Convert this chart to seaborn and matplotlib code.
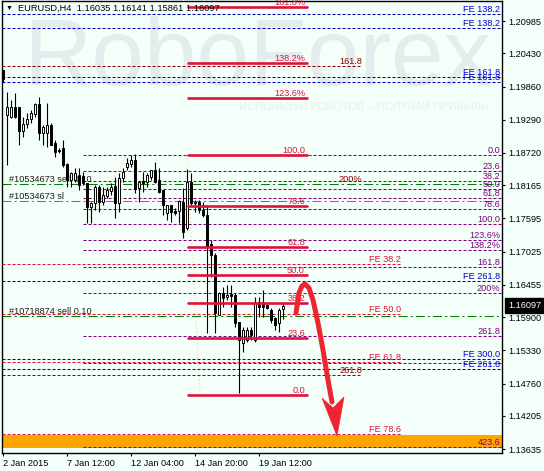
import numpy as np
import pandas as pd
import matplotlib
matplotlib.use("Agg")
import matplotlib.pyplot as plt
import matplotlib.transforms as mtransforms
from matplotlib.patches import Polygon
import seaborn as sns

# EURUSD H4 candles, bar 0 = 2 Jan 2015 00:00
opens = [1.2014, 1.1937, 1.1934, 1.1951, 1.1951, 1.1910, 1.1922, 1.1930, 1.1939, 1.1956,
         1.1906, 1.1906, 1.1920, 1.1889, 1.1877, 1.1881, 1.1853, 1.1826, 1.1826, 1.1834,
         1.1832, 1.1820, 1.1779, 1.1786, 1.1814, 1.1788, 1.1798, 1.1807, 1.1815, 1.1786,
         1.1829, 1.1848, 1.1853, 1.1860, 1.1812, 1.1824, 1.1822, 1.1831, 1.1843, 1.1826,
         1.1808, 1.1769, 1.1783, 1.1772, 1.1772, 1.1788, 1.1743, 1.1822, 1.1788, 1.1788,
         1.1774, 1.1765, 1.1716, 1.1697, 1.1594, 1.1632, 1.1625, 1.1630, 1.1628, 1.1582,
         1.1546, 1.1551, 1.1568, 1.1551, 1.1616, 1.1614, 1.1611, 1.1602, 1.1589, 1.1580,
         1.16035]
highs = [1.2014, 1.1977, 1.1963, 1.1975, 1.1951, 1.1934, 1.1941, 1.1946, 1.1958, 1.1968,
         1.1920, 1.1958, 1.1923, 1.1894, 1.1881, 1.1894, 1.1855, 1.1839, 1.1846, 1.1846,
         1.1839, 1.1820, 1.1788, 1.1817, 1.1817, 1.1814, 1.1814, 1.1820, 1.1831, 1.1838,
         1.1846, 1.1863, 1.1868, 1.1870, 1.1824, 1.1839, 1.1838, 1.1843, 1.1856, 1.1846,
         1.1808, 1.1783, 1.1783, 1.1777, 1.1791, 1.1812, 1.1844, 1.1838, 1.1791, 1.1791,
         1.1788, 1.1783, 1.1723, 1.1700, 1.1633, 1.1642, 1.1645, 1.1645, 1.1632, 1.1582,
         1.1573, 1.1573, 1.1573, 1.1625, 1.1625, 1.1637, 1.1613, 1.1606, 1.1590, 1.1606,
         1.16141]
lows = [1.1994, 1.1851, 1.1932, 1.1932, 1.1886, 1.1899, 1.1915, 1.1923, 1.1934, 1.1894,
        1.1886, 1.1882, 1.1886, 1.1865, 1.1872, 1.1848, 1.1814, 1.1814, 1.1822, 1.1808,
        1.1817, 1.1752, 1.1752, 1.1774, 1.1771, 1.1783, 1.1795, 1.1800, 1.1760, 1.1771,
        1.1822, 1.1843, 1.1848, 1.1803, 1.1788, 1.1805, 1.1814, 1.1826, 1.1820, 1.1803,
        1.1765, 1.1757, 1.1753, 1.1765, 1.1752, 1.1726, 1.1740, 1.1783, 1.1771, 1.1769,
        1.1762, 1.1563, 1.1659, 1.1563, 1.1594, 1.1608, 1.1620, 1.1608, 1.1573, 1.1460,
        1.1530, 1.1547, 1.1551, 1.1547, 1.1590, 1.1590, 1.1604, 1.1580, 1.1568, 1.1565,
        1.15861]
closes = [1.1999, 1.1951, 1.1951, 1.1934, 1.1910, 1.1922, 1.1930, 1.1941, 1.1956, 1.1906,
          1.1917, 1.1920, 1.1886, 1.1874, 1.1875, 1.1851, 1.1826, 1.1838, 1.1838, 1.1817,
          1.1820, 1.1779, 1.1786, 1.1814, 1.1788, 1.1800, 1.1808, 1.1814, 1.1786, 1.1829,
          1.1839, 1.1855, 1.1860, 1.1810, 1.1822, 1.1820, 1.1834, 1.1843, 1.1822, 1.1805,
          1.1783, 1.1783, 1.1771, 1.1769, 1.1789, 1.1736, 1.1822, 1.1786, 1.1786, 1.1774,
          1.1765, 1.1710, 1.1697, 1.1597, 1.1632, 1.1623, 1.1628, 1.1626, 1.1580, 1.1551,
          1.1568, 1.1568, 1.1559, 1.1614, 1.1608, 1.1608, 1.1606, 1.1585, 1.1577, 1.1602,
          1.16097]

date_ticks = [0, 16, 32, 48, 64]
date_labels = ["2 Jan 2015", "7 Jan 12:00", "12 Jan 04:00", "14 Jan 20:00", "19 Jan 12:00"]
price_ticks = [1.20985, 1.20430, 1.19860, 1.19290, 1.18720, 1.18165, 1.17595,
               1.17025, 1.16455, 1.15900, 1.15330, 1.14760, 1.14205, 1.13635]

# fibo retracement (thick red)
red_fib_levels = [1.14564, 1.15537, 1.16138, 1.16625, 1.17111, 1.17803, 1.18685,
                  1.19658, 1.20259, 1.21232]
red_fib_labels = ["0.0", "23.6", "38.2", "50.0", "61.8", "78.6", "100.0",
                  "123.6%", "138.2%", "161.8%"]
# fibo expansion (purple)
purple_fib_levels = [1.18685, 1.18405, 1.18232, 1.18093, 1.17953, 1.17754, 1.17500,
                     1.17220, 1.17047, 1.16768, 1.16315, 1.15583, 1.13665]
purple_fib_labels = ["0.0", "23.6", "38.2", "50.0", "61.8", "78.6", "100.0",
                     "123.6%", "138.2%", "161.8", "200%", "261.8", "423.6"]
purple_extra_level = 1.15113
# FE levels
fe_blue_levels = [1.2110, 1.2086, 1.2002, 1.1994, 1.1652, 1.1518, 1.1501]
fe_blue_labels = ["FE 138.2", "FE 138.2", "FE 161.8", "FE 161.8", "FE 261.8",
                  "FE 300.0", "FE 261.8"]
fe_red_levels = [1.1681, 1.1595, 1.1513, 1.1389]
fe_red_labels = ["FE 38.2", "FE 50.0", "FE 61.8", "FE 78.6"]
maroon_levels = [1.2021, 1.1491]
maroon_labels = ["161.8", "261.8"]
maroon_note = ("200%", 1.1819)
# open orders
order_levels = [1.1818, 1.1790, 1.1592]
order_labels = ["#10534673 sell 0.10", "#10534673 sl", "#10718874 sell 0.10"]
# target zone
zone_low, zone_high = 1.1366, 1.1388
# fibo trend lines (bar, price)
red_trend = ([46.0, 49.25], [1.18685, 1.14598])
purple_trend = ([20.6, 31.0], [1.17500, 1.18685])
# forecast arrow (bar, price)
arrow_bars = [73.25, 74.0, 74.75, 75.5, 76.5, 77.5, 78.75, 80.0, 81.25, 82.25]
arrow_prices = [1.15972, 1.16315, 1.16435, 1.16470, 1.16401, 1.16195, 1.15800,
                1.15337, 1.14821, 1.14444]
head_bars = [79.75, 82.5, 85.25, 83.5]
head_prices = [1.14512, 1.14341, 1.14530, 1.13860]

sns.set_theme(style="white", rc={"axes.edgecolor": "black", "text.color": "black",
                                 "xtick.color": "black", "ytick.color": "black"})
plt.rcParams["font.family"] = ["Liberation Sans", "DejaVu Sans"]
plt.rcParams["lines.scale_dashes"] = False

BG = "#F5FFFA"
FS = 6.6
DASH = (0, (2.2, 1.4))
DASHDOT = (0, (6.5, 2.2, 1.5, 2.2))
PURPLE = "#800080"
CRIMSON = "#DC143C"
BLUE = "#0000CD"
MAROON = "#8B0000"

fig = plt.figure(figsize=(5.44, 4.71), dpi=100, facecolor=BG)
ax = fig.add_axes([2 / 544, 18 / 471, 500 / 544, 452 / 471], facecolor=BG)
ax.set_xlim(-0.25, 124.75)
ax.set_ylim(1.13568, 1.21329)
X0, X1 = -0.25, 124.75

# watermark
ax.text(0.51, 0.868, "RoboForex", transform=ax.transAxes, fontsize=68, color="#e4eded",
        ha="center", va="center", zorder=0.5)
ax.text(0.724, 0.765, "ИСПОЛЬЗУЙ РОБОТОВ – ПОЛУЧАЙ ПРИБЫЛЬ", transform=ax.transAxes,
        fontsize=8, color="#e8eeee", ha="center", va="center", zorder=0.5)


def level(y, x0, x1, color, ls, lw=0.75, label=None, lx=None, z=3):
    ax.plot([x0, x1], [y, y], color=color, ls=ls, lw=lw, zorder=z)
    if label:
        ax.text(x1 if lx is None else lx, y, label, color=color, fontsize=FS,
                ha="right", va="bottom", zorder=z + 0.5)


# target zone
ax.axhspan(zone_low, zone_high, color="#FFA500", lw=0, zorder=1)

# trend lines of the fibo tools
ax.plot(*red_trend, color="#FFDAB9", ls=":", lw=1, zorder=1.5)
ax.plot(*purple_trend, color="#FFDAB9", ls=":", lw=1, zorder=1.5)

for y, lab in zip(fe_blue_levels, fe_blue_labels):
    level(y, X0, X1, BLUE, DASH, label=lab, lx=124.3)
for y, lab in zip(maroon_levels, maroon_labels):
    level(y, X0, 89.25, MAROON, DASH, label=lab, lx=89.75)
ax.text(89.75, maroon_note[1], maroon_note[0], color=MAROON, fontsize=FS, ha="right",
        va="bottom", zorder=3.5)
for y, lab in zip(purple_fib_levels, purple_fib_labels):
    level(y, 20.0, X1, PURPLE, DASH, label=lab, lx=124.3)
level(purple_extra_level, 20.0, X1, PURPLE, DASH)
for y, lab in zip(fe_red_levels, fe_red_labels):
    level(y, X0, 99.75, CRIMSON, DASH, label=lab, lx=99.5)

order_colors = ["#008000", "#FF4500", "#008000"]
for y, lab, c in zip(order_levels, order_labels, order_colors):
    ax.plot([X0, X1], [y, y], color=c, ls=DASHDOT, lw=0.75, zorder=2.5)
    ax.text(1.6, y, lab, color="#1a1a1a", fontsize=FS, ha="left", va="bottom", zorder=3.5)

for y, lab in zip(red_fib_levels, red_fib_labels):
    level(y, 46.25, 75.9, CRIMSON, "-", lw=1.9, label=lab, lx=75.5, z=6)

# candles
df = pd.DataFrame({"open": opens, "high": highs, "low": lows, "close": closes})
df["bar"] = np.arange(len(df))
up = df["close"] >= df["open"]
body_lo = df[["open", "close"]].min(axis=1)
body_h = (df["close"] - df["open"]).abs().clip(lower=0.00009)
ax.vlines(df["bar"], df["low"], df["high"], color="black", lw=0.8, zorder=4)
ax.bar(df["bar"][up], body_h[up], bottom=body_lo[up], width=0.5, color="white",
       edgecolor="black", lw=0.7, zorder=5)
ax.bar(df["bar"][~up], body_h[~up], bottom=body_lo[~up], width=0.5, color="black",
       edgecolor="black", lw=0.7, zorder=5)

# forecast arrow
ax.plot(arrow_bars, arrow_prices, color="#EE2430", lw=3.6, solid_capstyle="round",
        solid_joinstyle="round", zorder=7)
ax.add_patch(Polygon(list(zip(head_bars, head_prices)), closed=True, fc="#EE2430",
                     ec="#EE2430", lw=0.5, zorder=7))

# axes
ax.yaxis.tick_right()
ax.set_yticks(price_ticks)
ax.set_yticklabels([f"{p:.5f}" for p in price_ticks])
ax.tick_params(axis="y", right=True, left=False, length=2.5, width=0.8, labelsize=FS,
               pad=1.8, direction="out")
ax.set_xticks(date_ticks)
ax.set_xticklabels(date_labels, ha="left")
ax.tick_params(axis="x", bottom=True, length=2.5, width=0.8, labelsize=FS, pad=1.5,
               direction="out")
for s in ax.spines.values():
    s.set_color("black")
    s.set_linewidth(1)
ax.grid(False)

trans = mtransforms.blended_transform_factory(ax.transAxes, ax.transData)
ax.text(1.012, closes[-1], f"{closes[-1]:.5f}", transform=trans, color="white",
        fontsize=FS, ha="left", va="center", clip_on=False, zorder=10,
        bbox=dict(boxstyle="square,pad=0.3", fc="black", ec="black"))

fig.text(6 / 544, 1 - 5 / 471, "▼", fontsize=5, ha="left", va="top")
fig.text(18 / 544, 1 - 4 / 471, "EURUSD,H4  1.16035 1.16141 1.15861 1.16097",
         fontsize=6.7, ha="left", va="top")

fig.savefig("out.png", dpi=100, facecolor=BG)
